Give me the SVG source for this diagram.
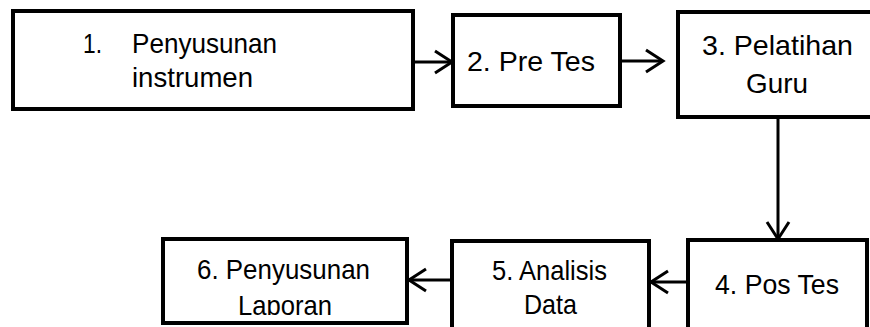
<svg xmlns="http://www.w3.org/2000/svg" width="870" height="327" viewBox="0 0 870 327">
<style>
.box{fill:#fff;stroke:#000;stroke-width:4}
.t{font-family:"Liberation Sans",Arial,sans-serif;font-size:28px;fill:#000}
.c{fill:none;stroke:#000;stroke-width:3;marker-end:url(#ah)}
</style>
<defs>
<marker id="ah" markerUnits="userSpaceOnUse" markerWidth="30" markerHeight="30" refX="0" refY="0" viewBox="-20 -15 25 30" orient="auto" overflow="visible">
<path d="M-17,-11 L0,0 L-17,11" fill="none" stroke="#000" stroke-width="3"/>
</marker>
<clipPath id="clip6"><rect x="160" y="235" width="250" height="80"/></clipPath>
</defs>
<rect width="870" height="327" fill="#fff"/>
<g id="connectors">
<line class="c" x1="413" y1="62" x2="452" y2="62"/>
<line class="c" x1="620" y1="61" x2="663" y2="61"/>
<line class="c" x1="778" y1="117" x2="778" y2="239"/>
<line class="c" x1="688" y1="282" x2="651" y2="282"/>
<line class="c" x1="452" y1="280" x2="409" y2="280"/>
</g>
<g id="n1">
<rect class="box" x="13" y="11" width="400" height="98"/>
<text class="t" x="83" y="53" textLength="19" lengthAdjust="spacingAndGlyphs">1.</text>
<text class="t" x="132" y="53" textLength="145" lengthAdjust="spacingAndGlyphs">Penyusunan</text>
<text class="t" x="132" y="87" textLength="121" lengthAdjust="spacingAndGlyphs">instrumen</text>
</g>
<g id="n2">
<rect class="box" x="453" y="15" width="167" height="91"/>
<text class="t" x="467" y="71" textLength="128" lengthAdjust="spacingAndGlyphs">2. Pre Tes</text>
</g>
<g id="n3">
<rect class="box" x="678" y="12" width="210" height="105"/>
<text class="t" x="702" y="55" textLength="151" lengthAdjust="spacingAndGlyphs">3. Pelatihan</text>
<text class="t" x="746" y="93" textLength="62" lengthAdjust="spacingAndGlyphs">Guru</text>
</g>
<g id="n4">
<rect class="box" x="688" y="240" width="179" height="110"/>
<text class="t" x="715" y="294" textLength="124" lengthAdjust="spacingAndGlyphs">4. Pos Tes</text>
</g>
<g id="n5">
<rect class="box" x="452" y="241" width="197" height="110"/>
<text class="t" x="492" y="280" textLength="115" lengthAdjust="spacingAndGlyphs">5. Analisis</text>
<text class="t" x="524" y="314" textLength="53" lengthAdjust="spacingAndGlyphs">Data</text>
</g>
<g id="n6">
<rect class="box" x="163" y="239" width="244" height="84"/>
<g clip-path="url(#clip6)">
<text class="t" x="197" y="279" textLength="173" lengthAdjust="spacingAndGlyphs">6. Penyusunan</text>
<text class="t" x="238" y="315" textLength="94" lengthAdjust="spacingAndGlyphs">Laporan</text>
</g>
</g>
</svg>
